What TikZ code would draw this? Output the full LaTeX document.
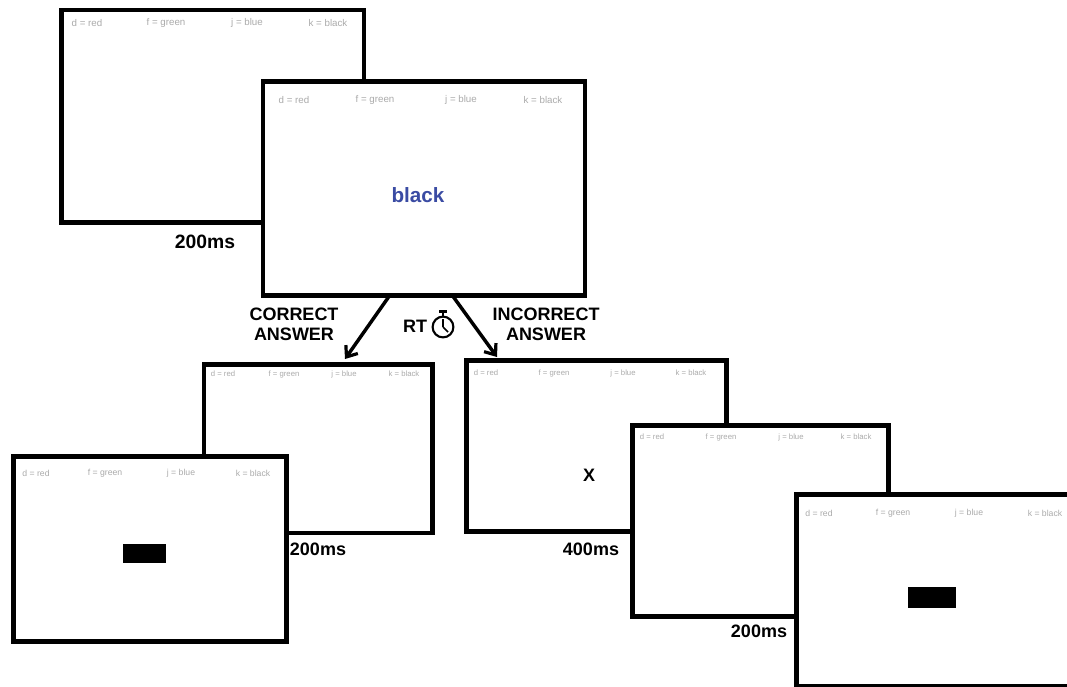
\documentclass[tikz,border=0pt]{standalone}
\usepackage{fontspec}
\setmainfont{Liberation Sans}
\usetikzlibrary{arrows.meta}
\definecolor{keygray}{HTML}{ABABAB}
\definecolor{wordblue}{HTML}{3A4BA3}
\begin{document}
\begin{tikzpicture}[x=0.75pt,y=-0.75pt,
  screen/.style={draw=black, line width=3.6pt, fill=white, inner sep=0pt, anchor=north west},
  keyA/.style={text=keygray, font=\fontsize{7.3}{8}\selectfont, inner sep=0pt},
  keyB/.style={text=keygray, font=\fontsize{5.8}{7}\selectfont, inner sep=0pt},
  keyC/.style={text=keygray, font=\fontsize{6.5}{7}\selectfont, inner sep=0pt},
  lbl/.style={font=\fontsize{13.5}{15}\selectfont\bfseries, inner sep=0pt, align=center},
  blk/.style={fill=black, draw=none, inner sep=0pt},
  arr/.style={line width=2.6pt, -{Straight Barb[length=7pt,width=11pt,line width=2.4pt]}}
]
\useasboundingbox (0,0) rectangle (1067,686);
\clip (0,0) rectangle (1067,686);
% screen A
\node[screen, minimum width=226.9pt, minimum height=159.4pt] (A) at (59,7.5) {};
\node[keyA] (A1) at (87,23) {d = red};
\node[keyA] (A2) at (166,23) {f = green};
\node[keyA] (A3) at (247,23) {j = blue};
\node[keyA] (A4) at (328,23) {k = black};
% screen B
\node[screen, minimum width=241.5pt, minimum height=160.5pt] (B) at (260.5,79) {};
\node[keyA] (B1) at (294,100) {d = red};
\node[keyA] (B2) at (375,100) {f = green};
\node[keyA] (B3) at (461,100) {j = blue};
\node[keyA] (B4) at (543,100) {k = black};
\node[font=\fontsize{15.5}{17}\selectfont\bfseries, text=wordblue, inner sep=0pt] (word) at (418,195) {black};
\node[lbl, font=\fontsize{14.5}{16}\selectfont\bfseries] (t1) at (205,242) {200ms};
% arrows
\coordinate (a1s) at (390,295);
\coordinate (a1e) at (345,359);
\coordinate (a2s) at (452,295);
\coordinate (a2e) at (497,357);
\node[lbl] (corr) at (294,324) {CORRECT\\ANSWER};
\node[lbl] (incorr) at (546,324) {INCORRECT\\ANSWER};
\node[lbl] (rt) at (415,326) {RT};
% stopwatch
\draw[line width=1.6pt] (443,327) circle (7.8pt);
\draw[line width=1.6pt] (443,312) -- (443,316.5);
\draw[line width=1.6pt] (439,311.5) -- (447,311.5);
\draw[line width=1.2pt] (443,327) -- (443,319);
\draw[line width=1.2pt] (443,327) -- (448,332);
% screen C
\node[screen, minimum width=171.4pt, minimum height=126.4pt] (C) at (201.5,362) {};
\node[keyB] (C1) at (223,374) {d = red};
\node[keyB] (C2) at (284,374) {f = green};
\node[keyB] (C3) at (344,374) {j = blue};
\node[keyB] (C4) at (404,374) {k = black};
\node[lbl] (t2) at (318,549) {200ms};
% screen D
\node[screen, minimum width=204.75pt, minimum height=138.75pt] (D) at (11,454) {};
\node[keyC] (D1) at (36,473) {d = red};
\node[keyC] (D2) at (105,473) {f = green};
\node[keyC] (D3) at (181,473) {j = blue};
\node[keyC] (D4) at (253,473) {k = black};
\node[blk, minimum width=32.3pt, minimum height=14.3pt] (mask1) at (144.5,553.5) {};
% screen E
\node[screen, minimum width=195pt, minimum height=128.25pt] (E) at (464,358) {};
\node[keyB] (E1) at (486,373) {d = red};
\node[keyB] (E2) at (554,373) {f = green};
\node[keyB] (E3) at (623,373) {j = blue};
\node[keyB] (E4) at (691,373) {k = black};
\node[lbl] (X) at (589,475) {X};
\node[lbl] (t3) at (591,549) {400ms};
% screen F
\node[screen, minimum width=192pt, minimum height=143.25pt] (F) at (630,423) {};
\node[keyB] (F1) at (652,437) {d = red};
\node[keyB] (F2) at (721,437) {f = green};
\node[keyB] (F3) at (791,437) {j = blue};
\node[keyB] (F4) at (856,437) {k = black};
\node[lbl] (t4) at (759,631) {200ms};
% screen G
\node[screen, minimum width=215pt, minimum height=144pt] (G) at (794,492) {};
\node[keyC] (G1) at (819,513) {d = red};
\node[keyC] (G2) at (893,513) {f = green};
\node[keyC] (G3) at (969,513) {j = blue};
\node[keyC] (G4) at (1045,513) {k = black};
\node[blk, minimum width=36pt, minimum height=15.75pt] (mask2) at (932,597.5) {};
% connectors
\draw[arr] (a1s) -- (a1e);
\draw[arr] (a2s) -- (a2e);
\end{tikzpicture}
\end{document}
